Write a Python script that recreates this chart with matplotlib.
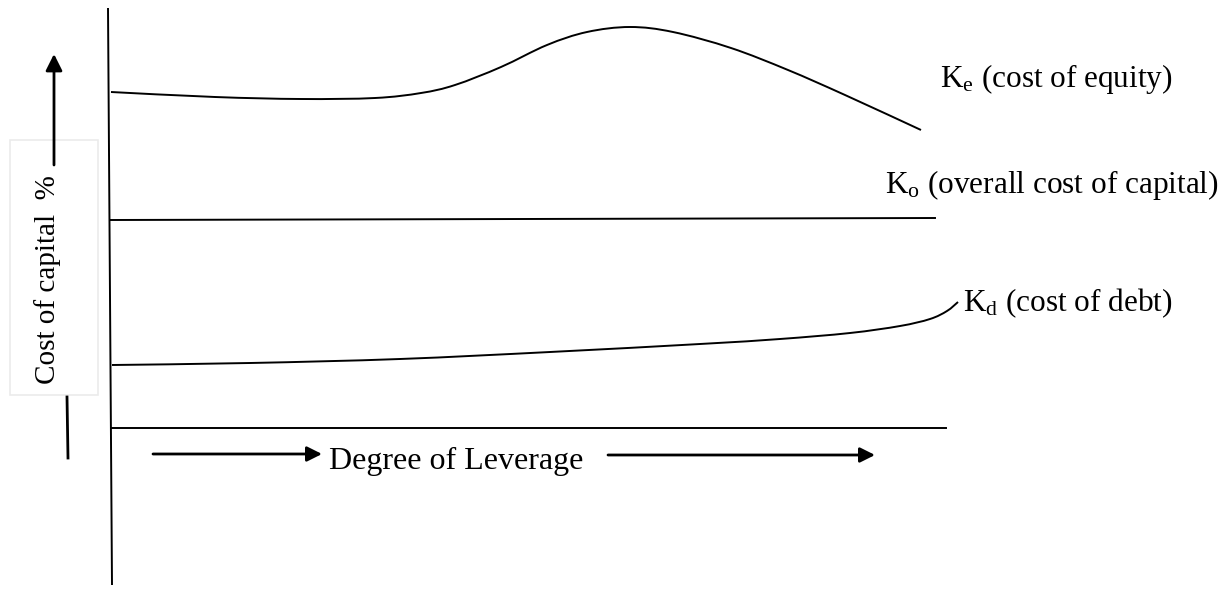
import matplotlib
matplotlib.use("Agg")
import matplotlib.pyplot as plt
import numpy as np
from matplotlib.path import Path
from matplotlib.patches import PathPatch, Rectangle

plt.rcParams["font.family"] = ["Liberation Serif", "DejaVu Serif"]
plt.rcParams["mathtext.fontset"] = "custom"
plt.rcParams["mathtext.rm"] = "Liberation Serif"
plt.rcParams["mathtext.it"] = "Liberation Serif:italic"

# curve points (pixel space, y down)
ke_x = [111, 215, 301, 375, 421, 455, 501, 547, 587, 630, 673, 731, 788, 845, 921]
ke_y = [92, 97, 99, 98, 93, 85, 67, 45, 32, 27, 32, 48, 70, 95, 130]
ko_x = [110, 935]
ko_y = [220, 218]
kd_x = [112, 250, 400, 550, 700, 780, 850, 900, 930, 947, 958]
kd_y = [365, 363, 359, 352, 344, 339, 333, 326, 319, 311, 302]

labels = [r"K$_{\rm e}$ (cost of equity)",
          r"K$_{\rm o}$ (overall cost of capital)",
          r"K$_{\rm d}$ (cost of debt)"]
label_x = [940, 885, 963]
label_y = [87, 193, 311]

y_label = "Cost of capital  %"
x_label = "Degree of Leverage"

W, H = 1224, 589


def smooth_path(xs, ys):
    # catmull-rom through the read points, drawn as cubic beziers
    p = np.column_stack([xs, ys]).astype(float)
    pts = np.vstack([p[0], p, p[-1]])
    verts = [tuple(p[0])]
    codes = [Path.MOVETO]
    for i in range(1, len(pts) - 2):
        p0, p1, p2, p3 = pts[i - 1], pts[i], pts[i + 1], pts[i + 2]
        c1 = p1 + (p2 - p0) / 6.0
        c2 = p2 - (p3 - p1) / 6.0
        verts += [tuple(c1), tuple(c2), tuple(p2)]
        codes += [Path.CURVE4] * 3
    return Path(verts, codes)


fig = plt.figure(figsize=(W / 100, H / 100), dpi=100)
ax = fig.add_axes([0, 0, 1, 1])
ax.set_xlim(0, W)
ax.set_ylim(H, 0)
ax.axis("off")

lw = 1.4
# axes
ax.plot([108, 112], [8, 585], color="black", lw=lw, solid_capstyle="butt")
ax.plot([112, 946], [428, 428], color="black", lw=lw)

# curves
for xs, ys in [(ke_x, ke_y), (kd_x, kd_y)]:
    ax.add_patch(PathPatch(smooth_path(xs, ys), fill=False, color="black", lw=lw))
ax.plot(ko_x, ko_y, color="black", lw=lw)

for txt, x, y in zip(labels, label_x, label_y):
    ax.text(x, y, txt, fontsize=22.5, ha="left", va="baseline")

# y label box with arrow
ax.add_patch(Rectangle((10, 140), 88, 255, fill=False, edgecolor="#ebebeb", lw=1.2))
ax.text(48, 280, y_label, rotation=90, fontsize=21, ha="center", va="center")
ax.annotate("", xy=(54, 54), xytext=(54, 165),
            arrowprops=dict(arrowstyle="-|>,head_length=1.0,head_width=0.5",
                            color="black", lw=2.0, shrinkA=0, shrinkB=0))
ax.plot([67, 68], [397, 458], color="black", lw=2.0)

# x label with arrows
ax.text(329, 469, x_label, fontsize=23, ha="left", va="baseline")
for x0, x1, y in [(153, 322, 454), (608, 875, 455)]:
    ax.annotate("", xy=(x1, y), xytext=(x0, y),
                arrowprops=dict(arrowstyle="-|>,head_length=0.9,head_width=0.45",
                                color="black", lw=2.0, shrinkA=0, shrinkB=0))

fig.savefig("out.png", dpi=100)
